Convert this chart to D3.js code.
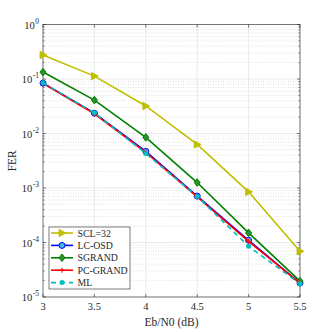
<!DOCTYPE html>
<html>
<head>
<meta charset="utf-8">
<script src="https://cdn.jsdelivr.net/npm/d3@7"></script>
<style>
  html, body { margin: 0; padding: 0; background: #fff; overflow: hidden; }
  svg { display: block; }
  text { font-family: "Liberation Serif", "DejaVu Serif", serif; fill: #262626; }
</style>
</head>
<body>
<div id="chart"></div>
<script>
const snr = [3, 3.5, 4, 4.5, 5, 5.5];
const fer_scl = [0.275, 0.113, 0.032, 0.0063, 8.5e-4, 6.9e-5];
const fer_lcosd = [0.084, 0.0236, 0.0047, 7.1e-4, 1.1e-4, 1.8e-5];
const fer_sgrand = [0.134, 0.041, 0.0085, 1.26e-3, 1.5e-4, 1.95e-5];
const fer_pcgrand = [0.083, 0.023, 0.0045, 6.9e-4, 1.05e-4, 1.8e-5];
const fer_ml = [0.085, 0.024, 0.0043, 7.0e-4, 8.5e-5, 1.75e-5];
const xTicks = [3, 3.5, 4, 4.5, 5, 5.5];
const yExps = [0, -1, -2, -3, -4, -5];

const series = [
  { name: "SCL=32", values: fer_scl, color: "#bfbf00", marker: "tri", dash: null },
  { name: "LC-OSD", values: fer_lcosd, color: "#0000ff", marker: "circle", dash: null },
  { name: "SGRAND", values: fer_sgrand, color: "#008000", marker: "diamond", dash: null },
  { name: "PC-GRAND", values: fer_pcgrand, color: "#ff0000", marker: "plus", dash: null },
  { name: "ML", values: fer_ml, color: "#00bfbf", marker: "dot", dash: "5,4" }
];

const width = 332, height = 332;
const margin = { top: 24.5, right: 32, bottom: 35, left: 43 };
const innerWidth = width - margin.left - margin.right;
const innerHeight = height - margin.top - margin.bottom;

const svg = d3.select("#chart").append("svg")
  .attr("width", width).attr("height", height);

const g = svg.append("g")
  .attr("transform", `translate(${margin.left},${margin.top})`);

const x = d3.scaleLinear().domain([3, 5.5]).range([0, innerWidth]);
const y = d3.scaleLog().domain([1e-5, 1]).range([innerHeight, 0]);

// Grid: minor dotted, major solid
const minor = [];
for (let e = -5; e < 0; e++) {
  for (let m = 2; m <= 9; m++) minor.push(m * Math.pow(10, e));
}
g.append("g").selectAll("line").data(minor).join("line")
  .attr("x1", 0).attr("x2", innerWidth)
  .attr("y1", d => y(d)).attr("y2", d => y(d))
  .attr("stroke", "#cfcfcf").attr("stroke-width", 0.6)
  .attr("stroke-dasharray", "1,1.5");

g.append("g").selectAll("line").data(yExps).join("line")
  .attr("x1", 0).attr("x2", innerWidth)
  .attr("y1", d => y(Math.pow(10, d))).attr("y2", d => y(Math.pow(10, d)))
  .attr("stroke", "#e3e3e3").attr("stroke-width", 0.7);

g.append("g").selectAll("line").data(xTicks).join("line")
  .attr("x1", d => x(d)).attr("x2", d => x(d))
  .attr("y1", 0).attr("y2", innerHeight)
  .attr("stroke", "#e3e3e3").attr("stroke-width", 0.7);

// Axis box
g.append("rect")
  .attr("width", innerWidth).attr("height", innerHeight)
  .attr("fill", "none").attr("stroke", "#262626").attr("stroke-width", 0.6);

// Ticks (inside, both sides)
const tickLen = 3;
xTicks.forEach(t => {
  g.append("line").attr("x1", x(t)).attr("x2", x(t)).attr("y1", innerHeight).attr("y2", innerHeight - tickLen)
    .attr("stroke", "#262626").attr("stroke-width", 0.6);
  g.append("line").attr("x1", x(t)).attr("x2", x(t)).attr("y1", 0).attr("y2", tickLen)
    .attr("stroke", "#262626").attr("stroke-width", 0.6);
});
yExps.forEach(e => {
  const yy = y(Math.pow(10, e));
  g.append("line").attr("x1", 0).attr("x2", tickLen).attr("y1", yy).attr("y2", yy)
    .attr("stroke", "#262626").attr("stroke-width", 0.6);
  g.append("line").attr("x1", innerWidth).attr("x2", innerWidth - tickLen).attr("y1", yy).attr("y2", yy)
    .attr("stroke", "#262626").attr("stroke-width", 0.6);
});
minor.forEach(v => {
  g.append("line").attr("x1", 0).attr("x2", 1.6).attr("y1", y(v)).attr("y2", y(v))
    .attr("stroke", "#262626").attr("stroke-width", 0.5);
  g.append("line").attr("x1", innerWidth).attr("x2", innerWidth - 1.6).attr("y1", y(v)).attr("y2", y(v))
    .attr("stroke", "#262626").attr("stroke-width", 0.5);
});

// Tick labels
g.append("g").selectAll("text").data(xTicks).join("text")
  .attr("x", d => x(d)).attr("y", innerHeight + 13)
  .attr("text-anchor", "middle").attr("font-size", 10.5)
  .text(d => d);

// y tick labels: "10" plus a separate superscript exponent
const ylg = g.append("g");
yExps.forEach(e => {
  const yy = y(Math.pow(10, e));
  const ex = ylg.append("text")
    .attr("x", -4).attr("y", yy - 1)
    .attr("text-anchor", "end").attr("font-size", 7.5)
    .text(e);
  const w = ex.node().getComputedTextLength();
  ylg.append("text")
    .attr("x", -4 - w - 0.5).attr("y", yy + 4)
    .attr("text-anchor", "end").attr("font-size", 10.5)
    .text("10");
});

// Axis labels
svg.append("text")
  .attr("x", margin.left + innerWidth / 2).attr("y", height - 6)
  .attr("text-anchor", "middle").attr("font-size", 11.5)
  .text("Eb/N0 (dB)");

svg.append("text")
  .attr("transform", `translate(16,${margin.top + innerHeight / 2}) rotate(-90)`)
  .attr("text-anchor", "middle").attr("font-size", 11.5)
  .text("FER");

// Markers
function drawMarker(sel, s, cx, cy) {
  if (s.marker === "tri") {
    sel.append("path").attr("d", `M${cx - 3},${cy - 3.8}L${cx + 4},${cy}L${cx - 3},${cy + 3.8}Z`)
      .attr("fill", s.color).attr("stroke", s.color).attr("stroke-width", 0.8);
  } else if (s.marker === "circle") {
    sel.append("circle").attr("cx", cx).attr("cy", cy).attr("r", 3)
      .attr("fill", "#3fbfdf").attr("stroke", s.color).attr("stroke-width", 1);
  } else if (s.marker === "diamond") {
    sel.append("path").attr("d", `M${cx},${cy - 3.8}L${cx + 3},${cy}L${cx},${cy + 3.8}L${cx - 3},${cy}Z`)
      .attr("fill", "#2f8f2f").attr("stroke", s.color).attr("stroke-width", 1);
  } else if (s.marker === "plus") {
    sel.append("path").attr("d", `M${cx - 2.5},${cy}H${cx + 2.5}M${cx},${cy - 2.5}V${cy + 2.5}`)
      .attr("stroke", s.color).attr("stroke-width", 1);
  } else if (s.marker === "dot") {
    sel.append("circle").attr("cx", cx).attr("cy", cy).attr("r", 2.5)
      .attr("fill", s.color).attr("stroke", "none");
  }
}

const line = d3.line().x((d, i) => x(snr[i])).y(d => y(d));

series.forEach(s => {
  const sg = g.append("g");
  sg.append("path").datum(s.values)
    .attr("d", line).attr("fill", "none")
    .attr("stroke", s.color).attr("stroke-width", 1.6)
    .attr("stroke-dasharray", s.dash);
  s.values.forEach((v, i) => drawMarker(sg, s, x(snr[i]), y(v)));
});

// Legend
const lg = svg.append("g").attr("transform", "translate(49,227)");
lg.append("rect").attr("width", 81).attr("height", 62)
  .attr("fill", "#fff").attr("stroke", "#262626").attr("stroke-width", 0.6);
series.forEach((s, i) => {
  const yy = 6 + i * 12.4;
  lg.append("line").attr("x1", 2).attr("x2", 24).attr("y1", yy).attr("y2", yy)
    .attr("stroke", s.color).attr("stroke-width", 1.6)
    .attr("stroke-dasharray", s.dash);
  drawMarker(lg, s, 13, yy);
  lg.append("text").attr("x", 28.5).attr("y", yy + 3.5)
    .attr("font-size", 9.8).text(s.name);
});
</script>
</body>
</html>
